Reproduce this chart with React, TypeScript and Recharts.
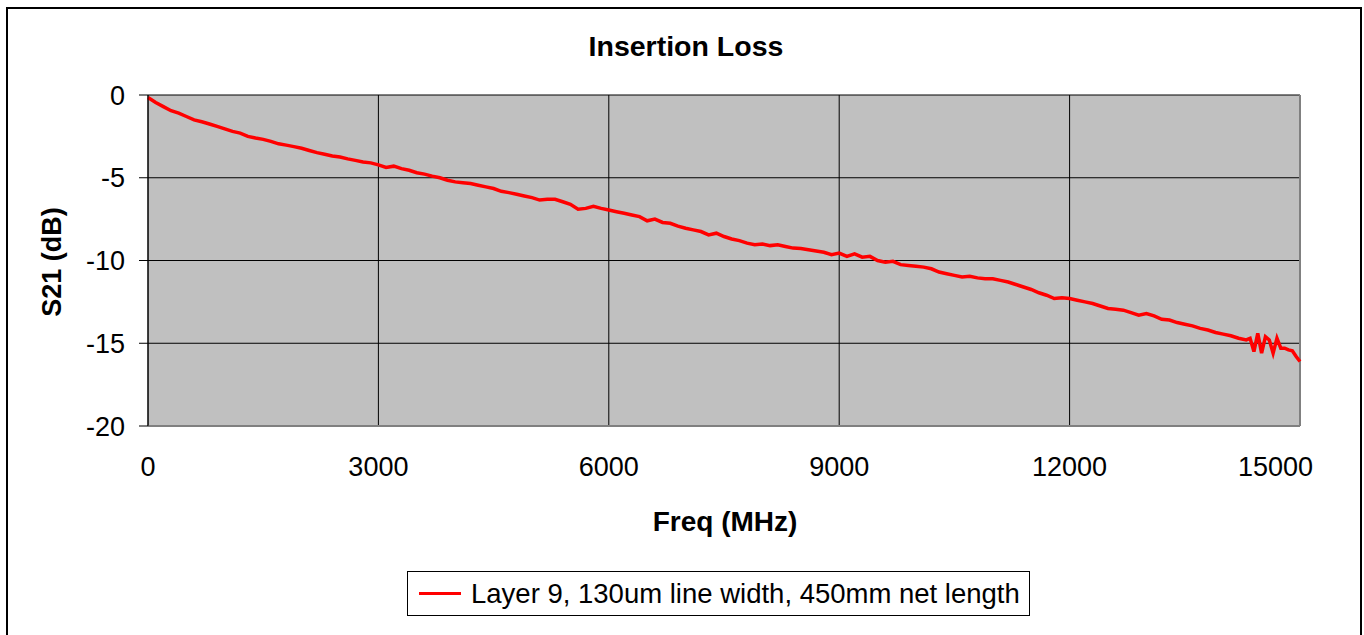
import { LineChart, Line, XAxis, YAxis, CartesianGrid, ReferenceLine } from 'recharts';

// frequency points (MHz)
const freqMain = [
  0, 100, 200, 300, 400, 500, 600, 700, 800, 900,
  1000, 1100, 1200, 1300, 1400, 1500, 1600, 1700, 1800, 1900,
  2000, 2100, 2200, 2300, 2400, 2500, 2600, 2700, 2800, 2900,
  3000, 3100, 3200, 3300, 3400, 3500, 3600, 3700, 3800, 3900,
  4000, 4100, 4200, 4300, 4400, 4500, 4600, 4700, 4800, 4900,
  5000, 5100, 5200, 5300, 5400, 5500, 5600, 5700, 5800, 5900,
  6000, 6100, 6200, 6300, 6400, 6500, 6600, 6700, 6800, 6900,
  7000, 7100, 7200, 7300, 7400, 7500, 7600, 7700, 7800, 7900,
  8000, 8100, 8200, 8300, 8400, 8500, 8600, 8700, 8800, 8900,
  9000, 9100, 9200, 9300, 9400, 9500, 9600, 9700, 9800, 9900,
  10000, 10100, 10200, 10300, 10400, 10500, 10600, 10700, 10800, 10900,
  11000, 11100, 11200, 11300, 11400, 11500, 11600, 11700, 11800, 11900,
  12000, 12100, 12200, 12300, 12400, 12500, 12600, 12700, 12800, 12900,
  13000, 13100, 13200, 13300, 13400, 13500, 13600, 13700, 13800, 13900,
  14000, 14100, 14200, 14300, 14350, 14400, 14450, 14500, 14550, 14600,
  14650, 14700, 14750, 14800, 14850, 14900, 14950, 15000,
];

// S21 (dB)
const s21 = [
  -0.15, -0.45, -0.7, -0.95, -1.1, -1.3, -1.5, -1.62, -1.75, -1.9,
  -2.05, -2.2, -2.3, -2.5, -2.6, -2.68, -2.8, -2.95, -3.03, -3.12,
  -3.22, -3.35, -3.48, -3.58, -3.68, -3.75, -3.86, -3.95, -4.05, -4.1,
  -4.22, -4.38, -4.3, -4.45, -4.55, -4.7, -4.78, -4.9, -5.0, -5.15,
  -5.25, -5.3, -5.35, -5.45, -5.55, -5.65, -5.82, -5.9, -6.0, -6.1,
  -6.2, -6.35, -6.3, -6.3, -6.45, -6.6, -6.9, -6.85, -6.72, -6.85,
  -6.95, -7.05, -7.15, -7.25, -7.35, -7.6, -7.5, -7.7, -7.75, -7.92,
  -8.05, -8.15, -8.25, -8.45, -8.35, -8.55, -8.7, -8.8, -8.95, -9.05,
  -9.0, -9.1, -9.05, -9.15, -9.25, -9.28, -9.35, -9.42, -9.5, -9.65,
  -9.55, -9.75, -9.6, -9.8, -9.75, -10.0, -10.1, -10.05, -10.25, -10.3,
  -10.35, -10.4, -10.5, -10.7, -10.8, -10.9, -11.0, -10.95, -11.05, -11.1,
  -11.1, -11.2, -11.3, -11.45, -11.6, -11.75, -11.95, -12.1, -12.3, -12.25,
  -12.3, -12.4, -12.5, -12.6, -12.75, -12.9, -12.95, -13.0, -13.15, -13.3,
  -13.2, -13.35, -13.55, -13.6, -13.75, -13.85, -13.95, -14.1, -14.2, -14.35,
  -14.45, -14.55, -14.7, -14.8, -14.7, -15.5, -14.4, -15.6, -14.6, -14.8,
  -15.6, -14.7, -15.3, -15.3, -15.4, -15.45, -15.8, -16.1,
];

const xTicks = [0, 3000, 6000, 9000, 12000, 15000];
const yTicks = [-20, -15, -10, -5, 0];

const seriesName = 'Layer 9, 130um line width, 450mm net length';
const font = '"Liberation Sans", Arial, sans-serif';

// last x label is pulled inside the frame, as in the original
const FreqTick = (props: any) => {
  const { x, y, payload } = props;
  const last = payload.value === xTicks[xTicks.length - 1];
  return (
    <text
      x={last ? x + 13 : x}
      y={y}
      dy="0.71em"
      textAnchor={last ? 'end' : 'middle'}
      fill="#000"
      fontSize={27}
      fontFamily={font}
    >
      {payload.value}
    </text>
  );
};

export default function App() {
  const data = freqMain.map((f, i) => ({ freq: f, s21: s21[i] }));

  return (
    <div style={{ position: 'absolute', left: 0, top: 0, width: 1364, height: 635, background: '#fff', overflow: 'hidden', fontFamily: font }}>
      <div style={{ position: 'absolute', left: 6, top: 7, width: 1352, height: 650, border: '2px solid #000' }} />
      <div style={{ position: 'absolute', left: 0, width: 1364, top: 30, textAlign: 'center', fontSize: 28.5, fontWeight: 'bold', lineHeight: '32px', paddingLeft: 4 }}>
        Insertion Loss
      </div>
      <div style={{ position: 'absolute', left: 525, width: 400, top: 506, textAlign: 'center', fontSize: 28, fontWeight: 'bold', lineHeight: '32px' }}>
        Freq (MHz)
      </div>
      <div style={{ position: 'absolute', left: 52, top: 262, width: 200, marginLeft: -100, marginTop: -16, textAlign: 'center', fontSize: 27, fontWeight: 'bold', lineHeight: '32px', transform: 'rotate(-90deg)' }}>
        S21 (dB)
      </div>
      <div style={{ position: 'absolute', left: 0, top: 0 }}>
        <LineChart width={1364} height={635} data={data} margin={{ top: 95, right: 64, left: 88, bottom: 179 }}>
          <CartesianGrid stroke="#000" fill="#c0c0c0" fillOpacity={1} />
          <XAxis
            dataKey="freq"
            type="number"
            domain={[0, 15000]}
            ticks={xTicks}
            height={30}
            tickSize={0}
            tickMargin={31}
            axisLine={{ stroke: '#808080', strokeWidth: 2 }}
            tickLine={false}
            tick={<FreqTick />}
            interval={0}
          />
          <YAxis
            type="number"
            domain={[-20, 0]}
            ticks={yTicks}
            width={60}
            tickSize={9}
            tickMargin={14}
            axisLine={{ stroke: '#000', strokeWidth: 1 }}
            tickLine={{ stroke: '#000' }}
            tick={{ fill: '#000', fontSize: 27, fontFamily: font }}
            interval={0}
          />
          <ReferenceLine x={15000} stroke="#808080" strokeWidth={2} />
          <Line
            type="linear"
            dataKey="s21"
            stroke="#ff0000"
            strokeWidth={3.5}
            dot={false}
            name={seriesName}
            isAnimationActive={false}
          />
        </LineChart>
      </div>
      <div style={{ position: 'absolute', left: 407, top: 571, width: 623, height: 45, border: '1px solid #000', display: 'flex', alignItems: 'center', boxSizing: 'border-box' }}>
        <div style={{ width: 42, height: 3, background: '#ff0000', marginLeft: 11, marginRight: 10 }} />
        <span style={{ fontSize: 27.5, whiteSpace: 'nowrap' }}>{seriesName}</span>
      </div>
    </div>
  );
}
